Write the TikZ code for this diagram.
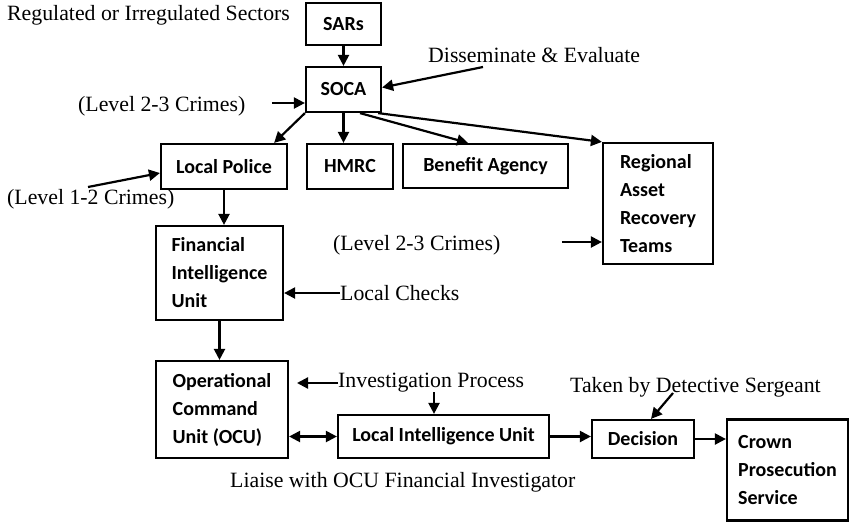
\documentclass[tikz,border=0pt]{standalone}
\usepackage{fontspec}
\setmainfont{Liberation Serif}
\newfontfamily\boxfont{Carlito}
\usetikzlibrary{arrows.meta}
\tikzset{
  >={Triangle[length=11pt,width=11pt]},
  unit/.style={draw, line width=2.2pt, inner sep=0pt, align=left, font=\boxfont\bfseries\fontsize{20}{28}\selectfont},
  note/.style={inner sep=0pt, anchor=west, font=\fontsize{21.8}{25}\selectfont},
  link/.style={->, line width=2.2pt},
  pair/.style={<->, line width=2.2pt},
}

\begin{document}
\begin{tikzpicture}[x=1pt, y=-1pt]
\useasboundingbox (0, 0) rectangle (850, 523);
% boxes
\node[unit, minimum width=75pt, minimum height=42pt] (sars) at (343.5, 24) {SARs};
\node[unit, minimum width=75pt, minimum height=45pt] (soca) at (343.5, 89.5) {SOCA};
\node[unit, minimum width=126pt, minimum height=45pt] (police) at (224, 166.5) {Local Police};
\node[unit, minimum width=86pt, minimum height=45pt] (hmrc) at (350, 166.5) {HMRC};
\node[unit, minimum width=165pt, minimum height=44pt] (benefit) at (485.5, 166) {Benefit Agency};
\node[unit, minimum width=110pt, minimum height=121pt] (rart) at (658, 203.5) {Regional\\Asset\\Recovery\\Teams};
\node[unit, minimum width=127pt, minimum height=94pt] (fiu) at (219.5, 273) {Financial\\Intelligence\\Unit};
\node[unit, minimum width=132pt, minimum height=97pt] (ocu) at (222, 409.5) {Operational\\Command\\Unit (OCU)};
\node[unit, minimum width=211pt, minimum height=43pt] (liu) at (443.5, 436.5) {Local Intelligence Unit};
\node[unit, minimum width=102pt, minimum height=38pt] (decision) at (643, 439) {Decision};
\node[unit, minimum width=121pt, minimum height=101pt] (cps) at (787.5, 470) {Crown\\Prosecution\\Service};
% labels
\node[note] (sectors) at (7, 15) {Regulated or Irregulated Sectors};
\node[note] (dissem) at (428, 55) {Disseminate \& Evaluate};
\node[note] (lvlsoca) at (78, 106) {(Level 2-3 Crimes)};
\node[note] (lvlpolice) at (7, 199) {(Level 1-2 Crimes)};
\node[note] (lvlrart) at (333, 245) {(Level 2-3 Crimes)};
\node[note] (checks) at (340, 293) {Local Checks};
\node[note] (invest) at (338, 383) {Investigation Process};
\node[note] (taken) at (570, 387) {Taken by Detective Sergeant};
\node[note] (liaise) at (230, 482) {Liaise with OCU Financial Investigator};
\coordinate (dstart) at (483, 67);
\coordinate (l12) at (88, 187);
\coordinate (ipdrop) at (434, 392);
\coordinate (tkn) at (673, 393);
% connectors
\draw[link] (sars) -- (soca);
\draw[link] (dstart) -- ([yshift=2pt]soca.east);
\draw[link] ([xshift=-33pt, yshift=-13.5pt]soca.west) -- ([yshift=-13.5pt]soca.west);
\draw[link] (soca.south west) -- ([xshift=-14pt]police.north east);
\draw[link] (soca.south) -- (soca.south |- hmrc.north);
\draw[link] ([xshift=16.5pt]soca.south) -- ([xshift=-17.5pt]benefit.north);
\draw[link] ([xshift=-4pt]soca.south east) -- (rart.north west);
\draw[link] (l12) -- ([yshift=-6.5pt]police.west);
\draw[link] ([xshift=-40pt, yshift=-38.5pt]rart.west) -- ([yshift=-38.5pt]rart.west);
\draw[link] (police.south) -- (police.south |- fiu.north);
\draw[link] (checks.west) -- (checks.west -| fiu.east);
\draw[link] (fiu.south) -- (fiu.south |- ocu.north);
\draw[link] (invest.west) -- ++(-41, 0);
\draw[link] (ipdrop) -- (ipdrop |- liu.north);
\draw[pair] (liu.west -| ocu.east) -- (liu.west);
\draw[link] (liu.east) -- (liu.east -| decision.west);
\draw[link] (tkn) -- ([xshift=8pt]decision.north);
\draw[link] (decision.east) -- (decision.east -| cps.west);
\end{tikzpicture}
\end{document}
